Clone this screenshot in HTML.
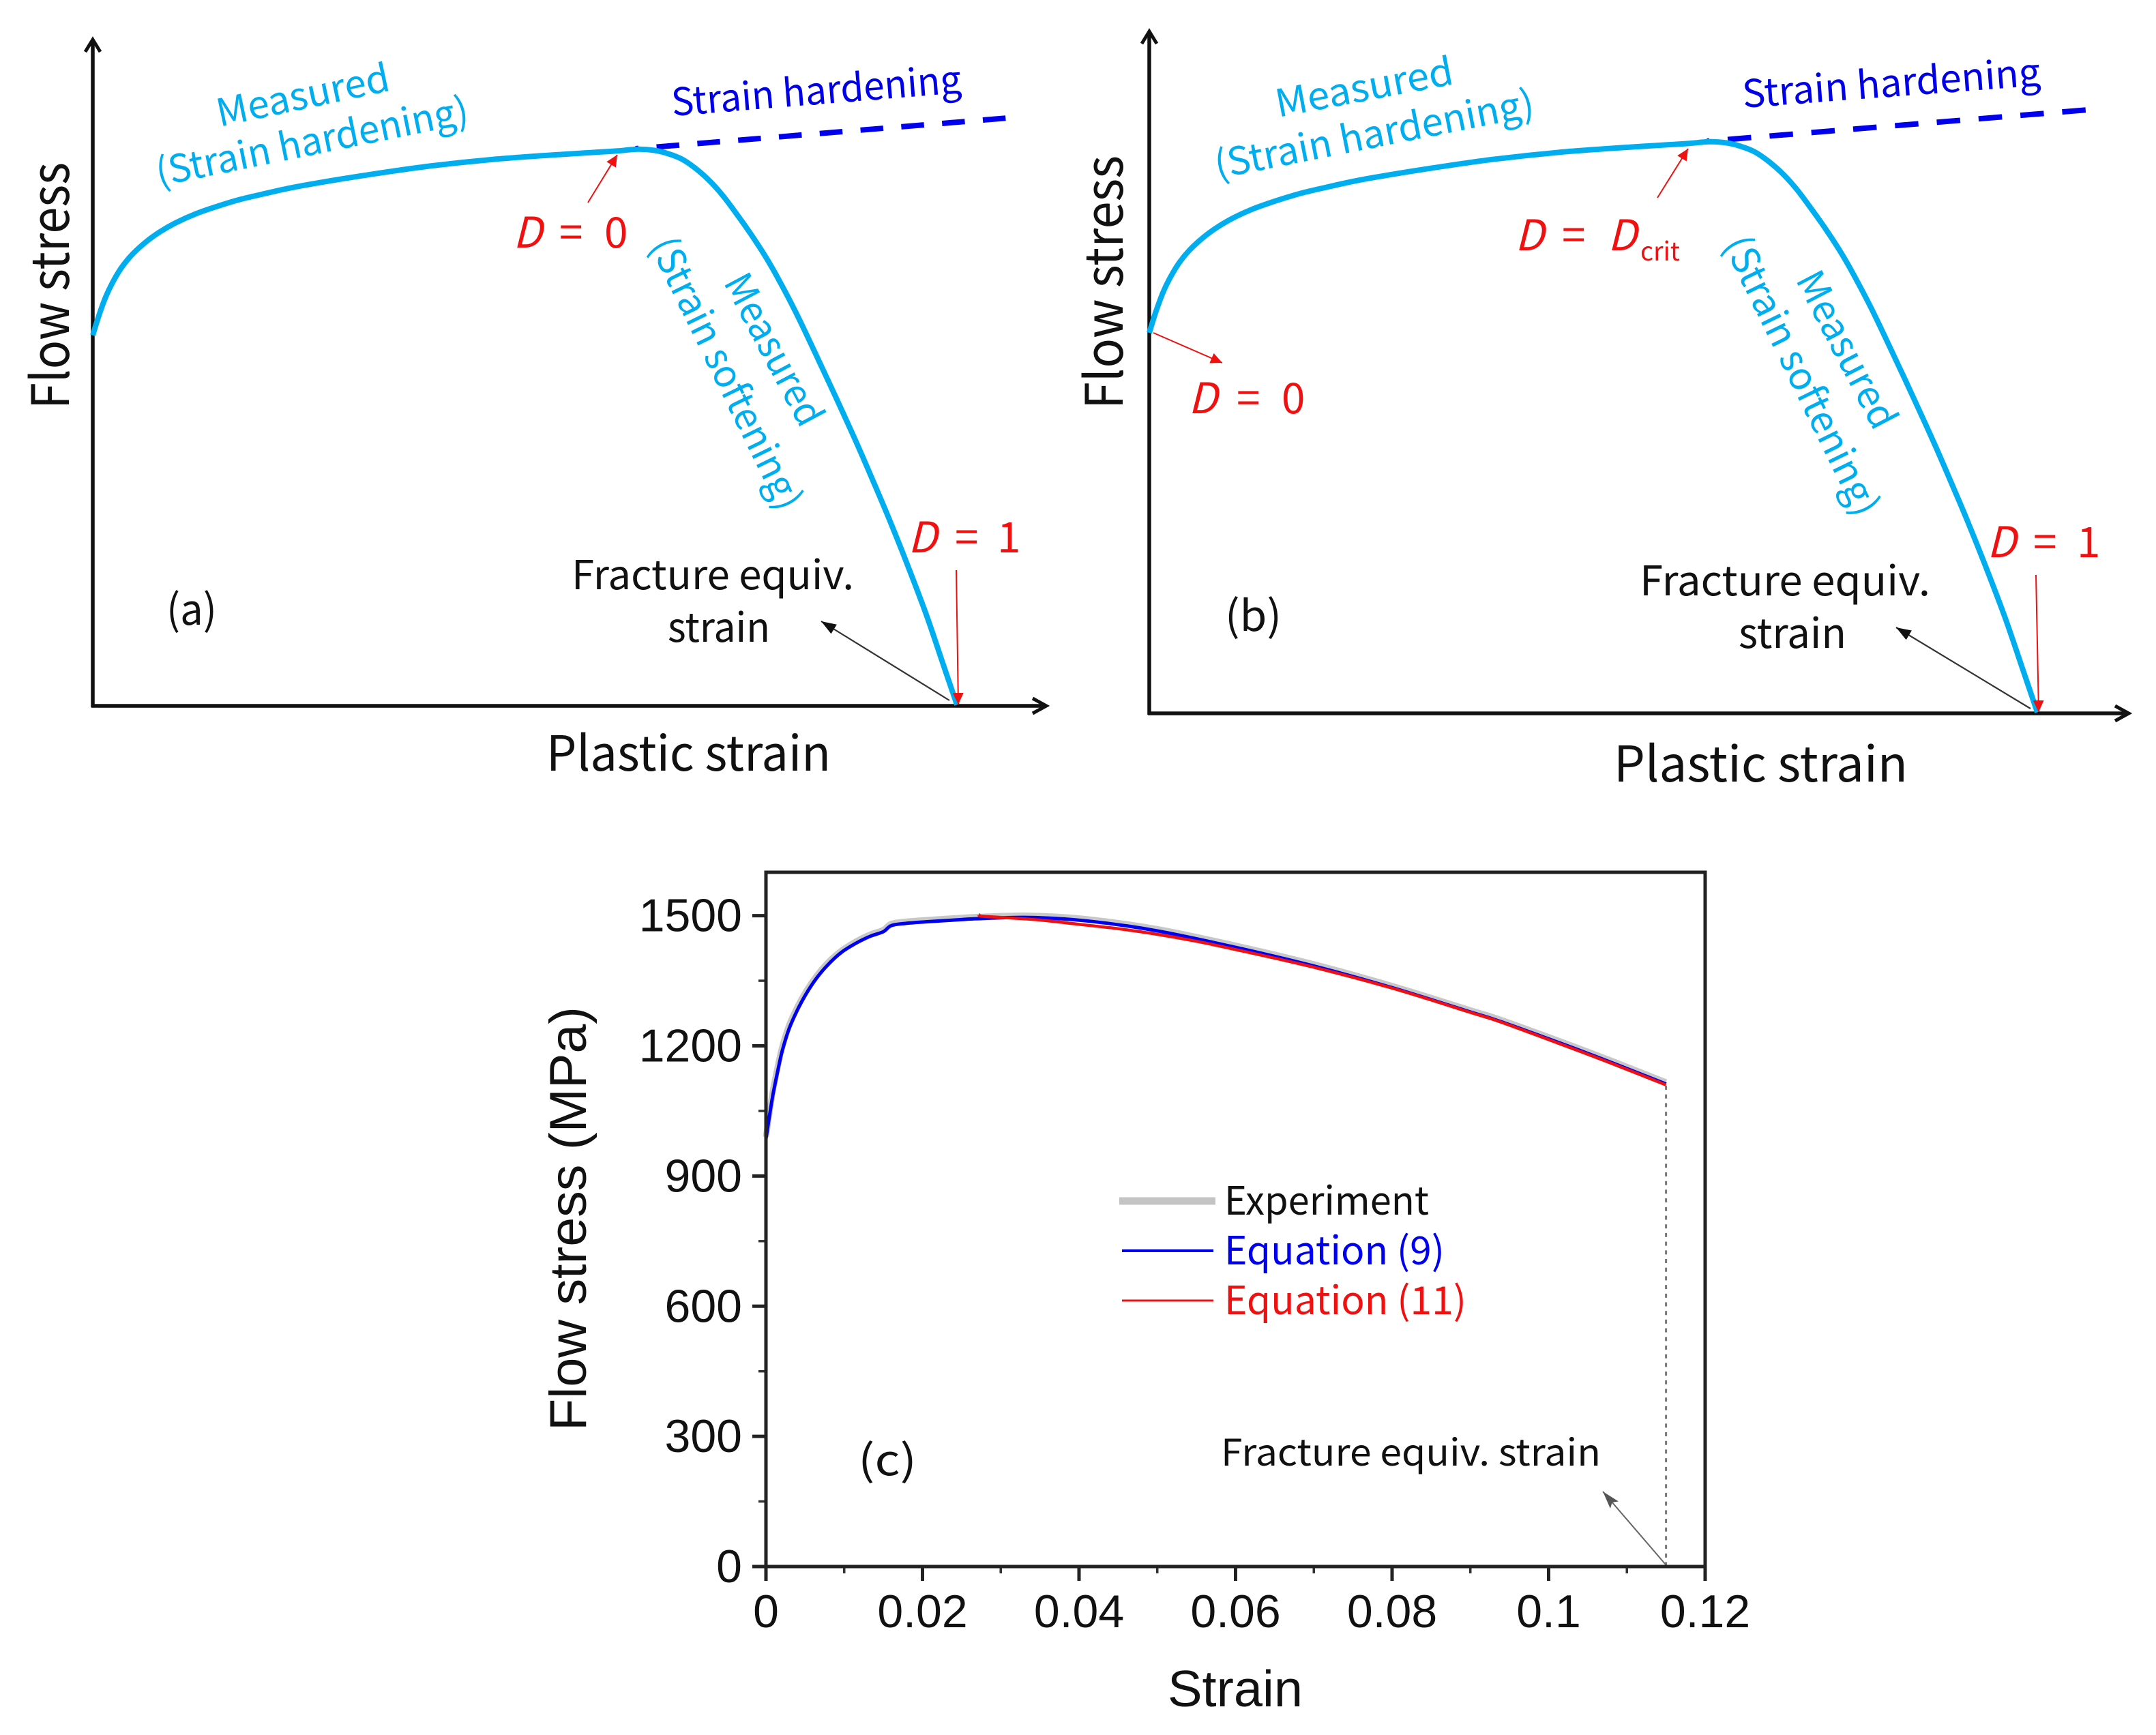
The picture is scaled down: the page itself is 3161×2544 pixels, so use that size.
<!DOCTYPE html>
<html lang="en">
<head>
<meta charset="utf-8">
<title>Flow stress versus strain schematics and measured curves</title>
<style>
html,body{margin:0;padding:0;background:#fff;}
svg{display:block;}
.k{font-family:"Noto Sans CJK KR","Liberation Sans",sans-serif;}
.a{font-family:"Liberation Sans",Arial,sans-serif;}
.i{font-style:italic;}
</style>
</head>
<body>
<svg id="figure" xmlns="http://www.w3.org/2000/svg" width="3161" height="2544" viewBox="0 0 3161 2544">
<defs>
<marker id="red-head" markerUnits="userSpaceOnUse" markerWidth="20" markerHeight="18" refX="17" refY="8" orient="auto"><path d="M0,0 L17,8 L0,16 Z" fill="#f01010"/></marker>
<marker id="black-head" markerUnits="userSpaceOnUse" markerWidth="24" markerHeight="20" refX="22" refY="9" orient="auto"><path d="M0,1 L22,9 L0,17 Z" fill="#111"/></marker>
<marker id="gray-head" markerUnits="userSpaceOnUse" markerWidth="30" markerHeight="22" refX="26" refY="9" orient="auto"><path d="M0,1 L26,9 L0,17 L5,9 Z" fill="#555"/></marker>
</defs>
<rect x="0" y="0" width="3161" height="2544" fill="#fff"/>

<!-- Panel (a) -->
<g id="panel-a">
  <path d="M136,60 V1037" stroke="#111" stroke-width="5.5" fill="none"/>
  <path d="M134,1035 H1532" stroke="#111" stroke-width="5.5" fill="none"/>
  <path d="M125,76 L136,58 L147,76" stroke="#111" stroke-width="5" fill="none"/>
  <path d="M1514,1024 L1534,1035 L1514,1046" stroke="#111" stroke-width="5" fill="none"/>
  <g id="marks-a"></g>
  <text class="k" font-size="76" fill="#111" transform="translate(101,600) rotate(-90)" textLength="362" lengthAdjust="spacingAndGlyphs">Flow stress</text>
  <text class="k" font-size="71" fill="#111" x="801" y="1130" textLength="417" lengthAdjust="spacingAndGlyphs">Plastic strain</text>
  <text class="k" font-size="56" fill="#00aeef" transform="translate(322,186) rotate(-12)" textLength="258" lengthAdjust="spacingAndGlyphs">Measured</text>
  <text class="k" font-size="56" fill="#00aeef" transform="translate(233,273) rotate(-11.5)" textLength="466" lengthAdjust="spacingAndGlyphs">(Strain hardening)</text>
  <text class="k" font-size="56" fill="#0000e8" transform="translate(986,170) rotate(-4.6)" textLength="426" lengthAdjust="spacingAndGlyphs">Strain hardening</text>
  <text class="k" font-size="56" fill="#00aeef" transform="translate(1060,414) rotate(62)" textLength="244" lengthAdjust="spacingAndGlyphs">Measured</text>
  <text class="k" font-size="56" fill="#00aeef" transform="translate(952,360) rotate(64)" textLength="436" lengthAdjust="spacingAndGlyphs">(Strain softening)</text>
  <text class="k" font-size="62" fill="#f01010" y="363"><tspan class="i" x="752">D</tspan><tspan x="820">=</tspan><tspan x="886">0</tspan></text>
  <text class="k" font-size="62" fill="#f01010" y="810"><tspan class="i" x="1331">D</tspan><tspan x="1400">=</tspan><tspan x="1462">1</tspan></text>
  <text class="k" font-size="59" fill="#111" x="838" y="864" textLength="414" lengthAdjust="spacingAndGlyphs">Fracture equiv.</text>
  <text class="k" font-size="59" fill="#111" x="979" y="941" textLength="150" lengthAdjust="spacingAndGlyphs">strain</text>
  <text class="k" font-size="62" fill="#111" x="244" y="916" textLength="74" lengthAdjust="spacingAndGlyphs">(a)</text>
  <line x1="862" y1="297" x2="905" y2="227" stroke="#f01010" stroke-width="2" marker-end="url(#red-head)"/>
  <line x1="1402" y1="836" x2="1405" y2="1033" stroke="#f01010" stroke-width="2" marker-end="url(#red-head)"/>
  <line x1="1392" y1="1027" x2="1204" y2="911" stroke="#333" stroke-width="2.2" marker-end="url(#black-head)"/>
</g>

<!-- Panel (b) -->
<g id="panel-b">
  <path d="M1685,48 V1048" stroke="#111" stroke-width="5.5" fill="none"/>
  <path d="M1683,1046 H3119" stroke="#111" stroke-width="5.5" fill="none"/>
  <path d="M1674,64 L1685,46 L1696,64" stroke="#111" stroke-width="5" fill="none"/>
  <path d="M3101,1035 L3121,1046 L3101,1057" stroke="#111" stroke-width="5" fill="none"/>
  <g id="marks-b"></g>
  <text class="k" font-size="76" fill="#111" transform="translate(1646,600) rotate(-90)" textLength="372" lengthAdjust="spacingAndGlyphs">Flow stress</text>
  <text class="k" font-size="72" fill="#111" x="2366" y="1146" textLength="431" lengthAdjust="spacingAndGlyphs">Plastic strain</text>
  <text class="k" font-size="56" fill="#00aeef" transform="translate(1874,172) rotate(-10.7)" textLength="264" lengthAdjust="spacingAndGlyphs">Measured</text>
  <text class="k" font-size="56" fill="#00aeef" transform="translate(1785,262) rotate(-11.2)" textLength="476" lengthAdjust="spacingAndGlyphs">(Strain hardening)</text>
  <text class="k" font-size="56" fill="#0000e8" transform="translate(2556,158) rotate(-4.3)" textLength="438" lengthAdjust="spacingAndGlyphs">Strain hardening</text>
  <text class="k" font-size="56" fill="#00aeef" transform="translate(2632,410) rotate(62.5)" textLength="252" lengthAdjust="spacingAndGlyphs">Measured</text>
  <text class="k" font-size="56" fill="#00aeef" transform="translate(2526,358) rotate(64)" textLength="448" lengthAdjust="spacingAndGlyphs">(Strain softening)</text>
  <text class="k" font-size="62" fill="#f01010" y="367"><tspan class="i" x="2221">D</tspan><tspan x="2290">=</tspan><tspan class="i" x="2357">D</tspan></text>
  <text class="k" font-size="38" fill="#f01010" x="2405" y="382" textLength="58" lengthAdjust="spacingAndGlyphs">crit</text>
  <text class="k" font-size="62" fill="#f01010" y="606"><tspan class="i" x="1742">D</tspan><tspan x="1813">=</tspan><tspan x="1879">0</tspan></text>
  <text class="k" font-size="62" fill="#f01010" y="817"><tspan class="i" x="2913">D</tspan><tspan x="2981">=</tspan><tspan x="3045">1</tspan></text>
  <text class="k" font-size="60" fill="#111" x="2404" y="873" textLength="426" lengthAdjust="spacingAndGlyphs">Fracture equiv.</text>
  <text class="k" font-size="60" fill="#111" x="2549" y="950" textLength="158" lengthAdjust="spacingAndGlyphs">strain</text>
  <text class="k" font-size="62" fill="#111" x="1796" y="925" textLength="83" lengthAdjust="spacingAndGlyphs">(b)</text>
  <line x1="1691" y1="488" x2="1792" y2="532" stroke="#f01010" stroke-width="2" marker-end="url(#red-head)"/>
  <line x1="2430" y1="290" x2="2475" y2="218" stroke="#f01010" stroke-width="2" marker-end="url(#red-head)"/>
  <line x1="2985" y1="843" x2="2989" y2="1044" stroke="#f01010" stroke-width="2" marker-end="url(#red-head)"/>
  <line x1="2977" y1="1039" x2="2780" y2="920" stroke="#333" stroke-width="2.2" marker-end="url(#black-head)"/>
</g>

<!-- Panel (c) -->
<g id="panel-c">
  <g id="grid-c"></g>
  <g id="marks-c"></g>
  <rect x="1123" y="1279" width="1377" height="1018" fill="none" stroke="#222" stroke-width="5"/>
  <text class="a" font-size="76" fill="#111" transform="translate(859,2098) rotate(-90)" textLength="622" lengthAdjust="spacingAndGlyphs">Flow stress (MPa)</text>
  <text class="a" font-size="75" fill="#111" x="1712" y="2502" textLength="198" lengthAdjust="spacingAndGlyphs">Strain</text>
  <line x1="1641" y1="1761" x2="1782" y2="1761" stroke="#c4c4c4" stroke-width="11"/>
  <line x1="1645" y1="1834" x2="1779" y2="1834" stroke="#0000f0" stroke-width="4"/>
  <line x1="1645" y1="1907" x2="1779" y2="1907" stroke="#f01010" stroke-width="3"/>
  <text class="k" font-size="57" fill="#111" x="1795" y="1781" textLength="300" lengthAdjust="spacingAndGlyphs">Experiment</text>
  <text class="k" font-size="57" fill="#0000f0" x="1795" y="1854" textLength="323" lengthAdjust="spacingAndGlyphs">Equation (9)</text>
  <text class="k" font-size="57" fill="#f01010" x="1795" y="1927" textLength="355" lengthAdjust="spacingAndGlyphs">Equation (11)</text>
  <text class="k" font-size="54" fill="#111" x="1790" y="2149" textLength="557" lengthAdjust="spacingAndGlyphs">Fracture equiv. strain</text>
  <text class="k" font-size="62" fill="#111" x="1258" y="2163" textLength="86" lengthAdjust="spacingAndGlyphs">(c)</text>
  <line x1="2442" y1="2294" x2="2350" y2="2187" stroke="#666" stroke-width="2" marker-end="url(#gray-head)"/>
</g>

<script>
/* Schematic panels (a) and (b): normalised plastic strain (0-100) and flow stress (0-100) */
var schematicStrain = [0, 0.7, 1.5, 2.3, 3.3, 4.5, 6.1, 7.7, 9.6, 11.9, 14.5, 17.1, 19.8, 22.4, 25.1, 31.4, 38.6, 46.5, 54.5, 58.7, 60.7, 63.1, 65.0, 66.6, 68.2, 69.8, 71.4, 72.9, 74.5, 76.1, 77.7, 79.2, 81.4, 84.0, 86.1, 88.5, 90.7, 92.3, 94.2, 96.4, 98.4, 100];
var schematicStress = [66.5, 70.0, 73.4, 76.0, 78.6, 80.9, 83.2, 85.0, 86.7, 88.3, 89.7, 90.9, 91.9, 92.8, 93.6, 95.2, 96.8, 98.1, 99.0, 99.4, 99.6, 99.9, 99.7, 99.1, 98.1, 96.4, 94.2, 91.6, 88.3, 84.8, 81.0, 77.0, 70.5, 62.0, 55.0, 46.8, 38.9, 33.0, 25.6, 16.6, 7.5, 0.2];
var hardeningStrain = [62.8, 105.8];
var hardeningStress = [100, 105.5];

/* Panel (c): measured and fitted curves */
var expStrain = [0, 0.00046, 0.0009, 0.00148, 0.00206, 0.00293, 0.00395, 0.00511, 0.00642, 0.00787, 0.00961, 0.01165, 0.01339, 0.01499, 0.016, 0.01775, 0.02064, 0.025, 0.02699, 0.03366, 0.041, 0.05, 0.06, 0.07, 0.08, 0.09, 0.09386, 0.10257, 0.1084, 0.115];
var expStress = [990, 1048, 1098, 1150, 1196, 1246, 1287, 1325, 1360, 1391, 1419, 1442, 1457, 1467, 1481, 1486, 1490, 1495, 1497, 1500, 1492, 1469, 1431, 1388, 1338, 1282, 1260, 1203, 1163, 1116];
var eq9Strain = [0, 0.00046, 0.0009, 0.00148, 0.00206, 0.00293, 0.00395, 0.00511, 0.00642, 0.00787, 0.00961, 0.01165, 0.01339, 0.01499, 0.016, 0.01775, 0.02064, 0.025, 0.02699, 0.03366, 0.041, 0.05, 0.06, 0.07, 0.08, 0.09, 0.09386, 0.10257, 0.1084, 0.115];
var eq9Stress = [985, 1040, 1088, 1140, 1187, 1238, 1280, 1319, 1355, 1386, 1415, 1438, 1453, 1463, 1477, 1482, 1486, 1491, 1493, 1496, 1488, 1465, 1427, 1384, 1334, 1278, 1256, 1199, 1159, 1112];
var eq11Strain = [0.0272, 0.0275, 0.03, 0.035, 0.04, 0.045, 0.05, 0.055, 0.06, 0.07, 0.08, 0.09, 0.09386, 0.10257, 0.1084, 0.115];
var eq11Stress = [1503, 1499, 1496, 1490, 1480, 1470, 1457, 1441, 1422, 1381, 1333, 1277, 1255, 1197, 1157, 1110];
var xTickValues = [0, 0.02, 0.04, 0.06, 0.08, 0.1, 0.12];
var xTickLabels = ['0', '0.02', '0.04', '0.06', '0.08', '0.1', '0.12'];
var xMinorValues = [0.01, 0.03, 0.05, 0.07, 0.09, 0.11];
var yTickValues = [0, 300, 600, 900, 1200, 1500];
var yTickLabels = ['0', '300', '600', '900', '1200', '1500'];
var yMinorValues = [150, 450, 750, 1050, 1350];
var fractureStrain = [0.115];
var fractureStress = [1108];

var NS = 'http://www.w3.org/2000/svg';
function mk(parent, tag, attrs) {
  var el = document.createElementNS(NS, tag);
  for (var k in attrs) { el.setAttribute(k, attrs[k]); }
  parent.appendChild(el);
  return el;
}
function smooth(xs, ys, sx, sy) {
  var p = xs.map(function (v, i) { return [sx(v), sy(ys[i])]; });
  var d = 'M' + p[0][0].toFixed(1) + ',' + p[0][1].toFixed(1);
  for (var i = 0; i < p.length - 1; i++) {
    var a = p[Math.max(i - 1, 0)], b = p[i], c = p[i + 1], e = p[Math.min(i + 2, p.length - 1)];
    d += ' C' + (b[0] + (c[0] - a[0]) / 6).toFixed(1) + ',' + (b[1] + (c[1] - a[1]) / 6).toFixed(1) +
         ' ' + (c[0] - (e[0] - b[0]) / 6).toFixed(1) + ',' + (c[1] - (e[1] - b[1]) / 6).toFixed(1) +
         ' ' + c[0].toFixed(1) + ',' + c[1].toFixed(1);
  }
  return d;
}
function straight(xs, ys, sx, sy) {
  return xs.map(function (v, i) { return (i ? 'L' : 'M') + sx(v).toFixed(1) + ',' + sy(ys[i]).toFixed(1); }).join(' ');
}

/* Panel (a) scales */
function xA(v) { return 136 + 12.67 * v; }
function yA(v) { return 1035 - 8.17 * v; }
/* Panel (b) scales */
function xB(v) { return 1685 + 13.02 * v; }
function yB(v) { return 1046 - 8.39 * v; }
/* Panel (c) scales */
function xC(v) { return 1123 + 1377 * v / 0.12; }
function yC(v) { return 2297 - 1018 * v / 1600; }

var gA = document.getElementById('marks-a');
var dashA = mk(gA, 'path', { d: straight(hardeningStrain, hardeningStress, xA, yA), fill: 'none', stroke: '#0000ee', 'stroke-width': 8, 'stroke-dasharray': '33.5 26.5', 'stroke-dashoffset': 29 });


var curveA = mk(gA, 'path', { d: smooth(schematicStrain, schematicStress, xA, yA), fill: 'none', stroke: '#00aeef', 'stroke-width': 8, 'stroke-linejoin': 'round' });



var gB = document.getElementById('marks-b');
var dashB = mk(gB, 'path', { d: straight(hardeningStrain, hardeningStress, xB, yB), fill: 'none', stroke: '#0000ee', 'stroke-width': 8, 'stroke-dasharray': '34.5 27', 'stroke-dashoffset': 31 });


var curveB = mk(gB, 'path', { d: smooth(schematicStrain, schematicStress, xB, yB), fill: 'none', stroke: '#00aeef', 'stroke-width': 8, 'stroke-linejoin': 'round' });



var axesC = document.getElementById('grid-c');
xTickValues.forEach(function (v, i) {
  var t = mk(axesC, 'line', { x1: xC(v), x2: xC(v), y1: 2297, y2: 2318, stroke: '#222', 'stroke-width': 5 });
  
  
  var l = mk(axesC, 'text', { x: xC(v), y: 2386, 'text-anchor': 'middle', 'font-size': 68, 'class': 'a', fill: '#111' });
  
  
  l.textContent = xTickLabels[i];
});
xMinorValues.forEach(function (v) {
  var t = mk(axesC, 'line', { x1: xC(v), x2: xC(v), y1: 2297, y2: 2307, stroke: '#333', 'stroke-width': 3.5 });
  
  
});
yTickValues.forEach(function (v, i) {
  var t = mk(axesC, 'line', { x1: 1103, x2: 1123, y1: yC(v), y2: yC(v), stroke: '#222', 'stroke-width': 5 });
  
  
  var l = mk(axesC, 'text', { x: 1088, y: yC(v) + 23, 'text-anchor': 'end', 'font-size': 68, 'class': 'a', fill: '#111' });
  
  
  l.textContent = yTickLabels[i];
});
yMinorValues.forEach(function (v) {
  var t = mk(axesC, 'line', { x1: 1112, x2: 1123, y1: yC(v), y2: yC(v), stroke: '#333', 'stroke-width': 3.5 });
  
  
});

var gC = document.getElementById('marks-c');
var drop = mk(gC, 'line', { x1: xC(fractureStrain[0]), x2: xC(fractureStrain[0]), y1: yC(fractureStress[0]), y2: yC(0), stroke: '#777', 'stroke-width': 3, 'stroke-dasharray': '6 6.7' });


var expLine = mk(gC, 'path', { d: smooth(expStrain, expStress, xC, yC), fill: 'none', stroke: '#c8c8c8', 'stroke-width': 9, 'stroke-linejoin': 'round' });


var eq9Line = mk(gC, 'path', { d: smooth(eq9Strain, eq9Stress, xC, yC), fill: 'none', stroke: '#0000f0', 'stroke-width': 5, 'stroke-linejoin': 'round' });


var eq11Line = mk(gC, 'path', { d: smooth(eq11Strain, eq11Stress, xC, yC), fill: 'none', stroke: '#f01010', 'stroke-width': 4.5, 'stroke-linejoin': 'round' });


</script>
</svg>
</body>
</html>
